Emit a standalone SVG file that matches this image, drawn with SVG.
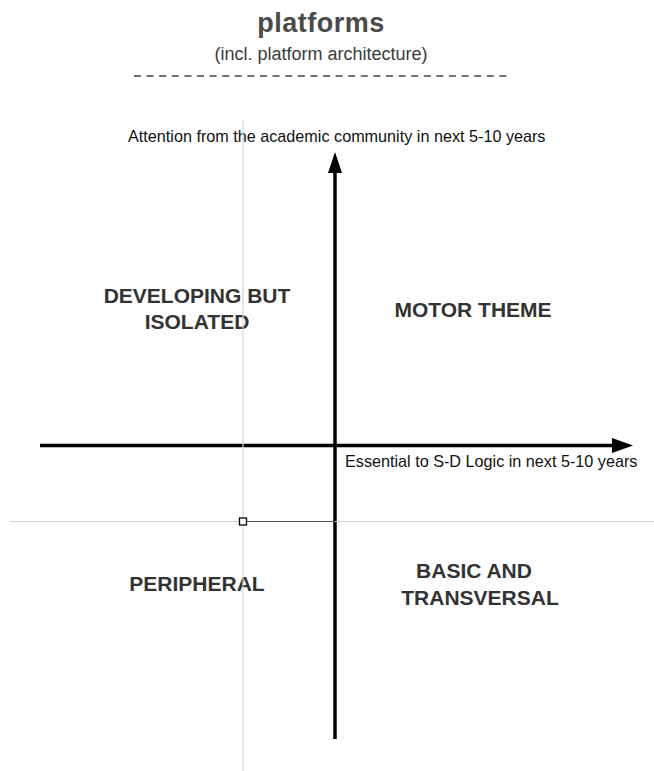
<svg xmlns="http://www.w3.org/2000/svg" width="654" height="771" viewBox="0 0 654 771">
  <style>
    .title { font-family: "Liberation Sans", Arial, sans-serif; font-weight: bold; font-size: 27px; fill: #4a4a4a; letter-spacing: 0.5px; }
    .sub { font-family: "Liberation Sans", Arial, sans-serif; font-size: 18px; fill: #3a3a3a; }
    .axislbl { font-family: "Liberation Sans", Arial, sans-serif; font-size: 16.2px; fill: #111; }
    .quad { font-family: "Liberation Sans", Arial, sans-serif; font-weight: bold; font-size: 21px; fill: #333; }
    .axis { stroke: #000; stroke-width: 3.5; fill: none; }
    .guide { stroke: #d4d4d4; stroke-width: 1.2; fill: none; }
  </style>
  <rect width="654" height="771" fill="#fff"/>
  <g id="header">
    <text class="title" x="321" y="32" text-anchor="middle">platforms</text>
    <text class="sub" x="321" y="60" text-anchor="middle">(incl. platform architecture)</text>
    <line x1="134" y1="76" x2="512" y2="76" stroke="#444" stroke-width="1.6" stroke-dasharray="7 5.6"/>
  </g>
  <g id="connectors">
    <line class="axis" x1="335" y1="739" x2="335" y2="170"/>
    <polygon points="335,152 328,173 342,173" fill="#000"/>
    <line class="axis" x1="40" y1="445.5" x2="615" y2="445.5"/>
    <polygon points="633,445.5 612,438 612,453" fill="#000"/>
  </g>
  <g id="axis-labels">
    <text class="axislbl" x="128" y="142">Attention from the academic community in next 5-10 years</text>
    <text class="axislbl" x="345" y="467">Essential to S-D Logic in next 5-10 years</text>
  </g>
  <g id="developing-but-isolated">
    <text class="quad" x="197" y="303" text-anchor="middle">DEVELOPING BUT</text>
    <text class="quad" x="197" y="329" text-anchor="middle">ISOLATED</text>
  </g>
  <g id="motor-theme">
    <text class="quad" x="473" y="317" text-anchor="middle">MOTOR THEME</text>
  </g>
  <g id="peripheral">
    <text class="quad" x="197" y="591" text-anchor="middle">PERIPHERAL</text>
  </g>
  <g id="basic-and-transversal">
    <text class="quad" x="474" y="578" text-anchor="middle">BASIC AND</text>
    <text class="quad" x="480" y="605" text-anchor="middle">TRANSVERSAL</text>
  </g>
  <g id="guides">
    <line class="guide" x1="243" y1="120" x2="243" y2="771"/>
    <line class="guide" x1="10" y1="521.5" x2="654" y2="521.5"/>
    <line x1="243" y1="521.5" x2="335" y2="521.5" stroke="#555" stroke-width="1"/>
    <rect x="239.5" y="518" width="7" height="7" fill="#fff" stroke="#000" stroke-width="1.3"/>
  </g>
</svg>
